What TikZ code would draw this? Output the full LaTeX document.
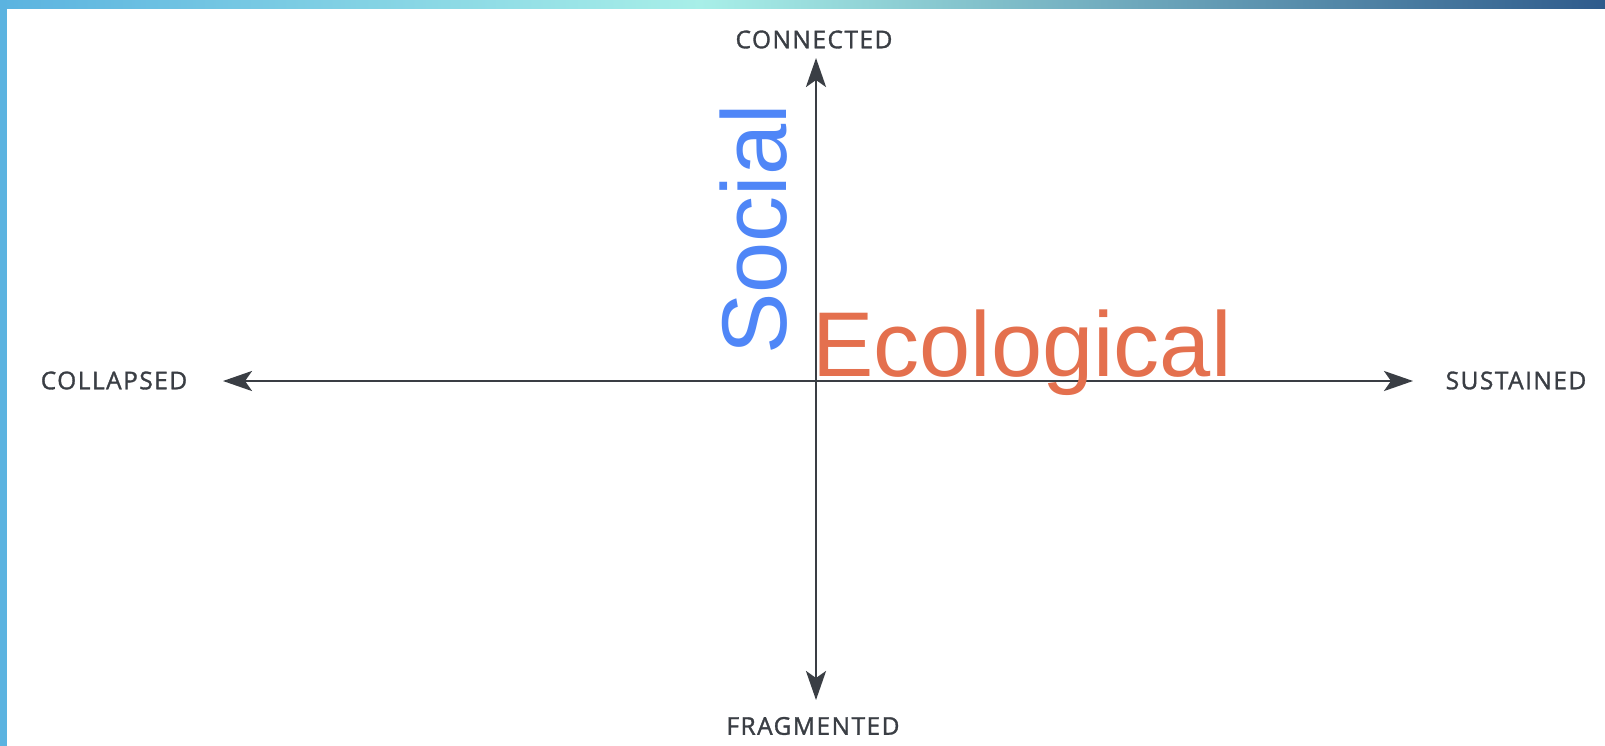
\documentclass[tikz,border=0pt]{standalone}
\usepackage{fontspec}
\usetikzlibrary{arrows.meta}
\setmainfont{Liberation Sans}
\newfontfamily\polefont[LetterSpace=6,FakeBold=1.3]{Open Sans}
\definecolor{axisgray}{HTML}{3A3E44}
\definecolor{socialblue}{HTML}{4F86F7}
\definecolor{ecoorange}{HTML}{E4704E}
\definecolor{waterleft}{HTML}{5BB3E0}
\definecolor{watermid}{HTML}{A8EFE8}
\definecolor{waterright}{HTML}{2F5B8C}

\begin{document}
\begin{tikzpicture}[x=1pt,y=-1pt,
		pole/.style={font=\polefont\fontsize{24.5}{24.5}\selectfont,text=axisgray,inner sep=0pt},
		axis/.style={draw=axisgray,line width=2.6pt,{Stealth[length=29pt,width=20pt,inset=7pt]}-{Stealth[length=29pt,width=20pt,inset=7pt]}},
		dimension/.style={font=\fontsize{92}{92}\selectfont,inner sep=0pt}]
		\useasboundingbox (0,0) rectangle (1605,746);
		% frame
		\fill[white] (0,0) rectangle (1605,746);
		\shade[left color=waterleft,right color=watermid] (0,0) rectangle (700,9);
		\shade[left color=watermid,right color=waterright] (700,0) rectangle (1605,9);
		\fill[waterleft] (0,0) rectangle (7,746);
		% poles
		\node[pole] (connected) at (814,39.5) {CONNECTED};
		\node[pole] (fragmented) at (813,726) {FRAGMENTED};
		\node[pole] (collapsed) at (114,380.5) {COLLAPSED};
		\node[pole] (sustained) at (1516,380.5) {SUSTAINED};
		\coordinate (up) at (816,58);
		\coordinate (down) at (816,700);
		\coordinate (left) at (223,381);
		\coordinate (right) at (1413,381);
		\draw[axis] (left) -- (right);
		\draw[axis] (down) -- (up);
		% dimensions
		\node[dimension,text=socialblue,rotate=90,anchor=base west] (social) at (786,355) {Social};
		\node[dimension,text=ecoorange,anchor=base west] (ecological) at (812,376) {Ecological};
\end{tikzpicture}
\end{document}
